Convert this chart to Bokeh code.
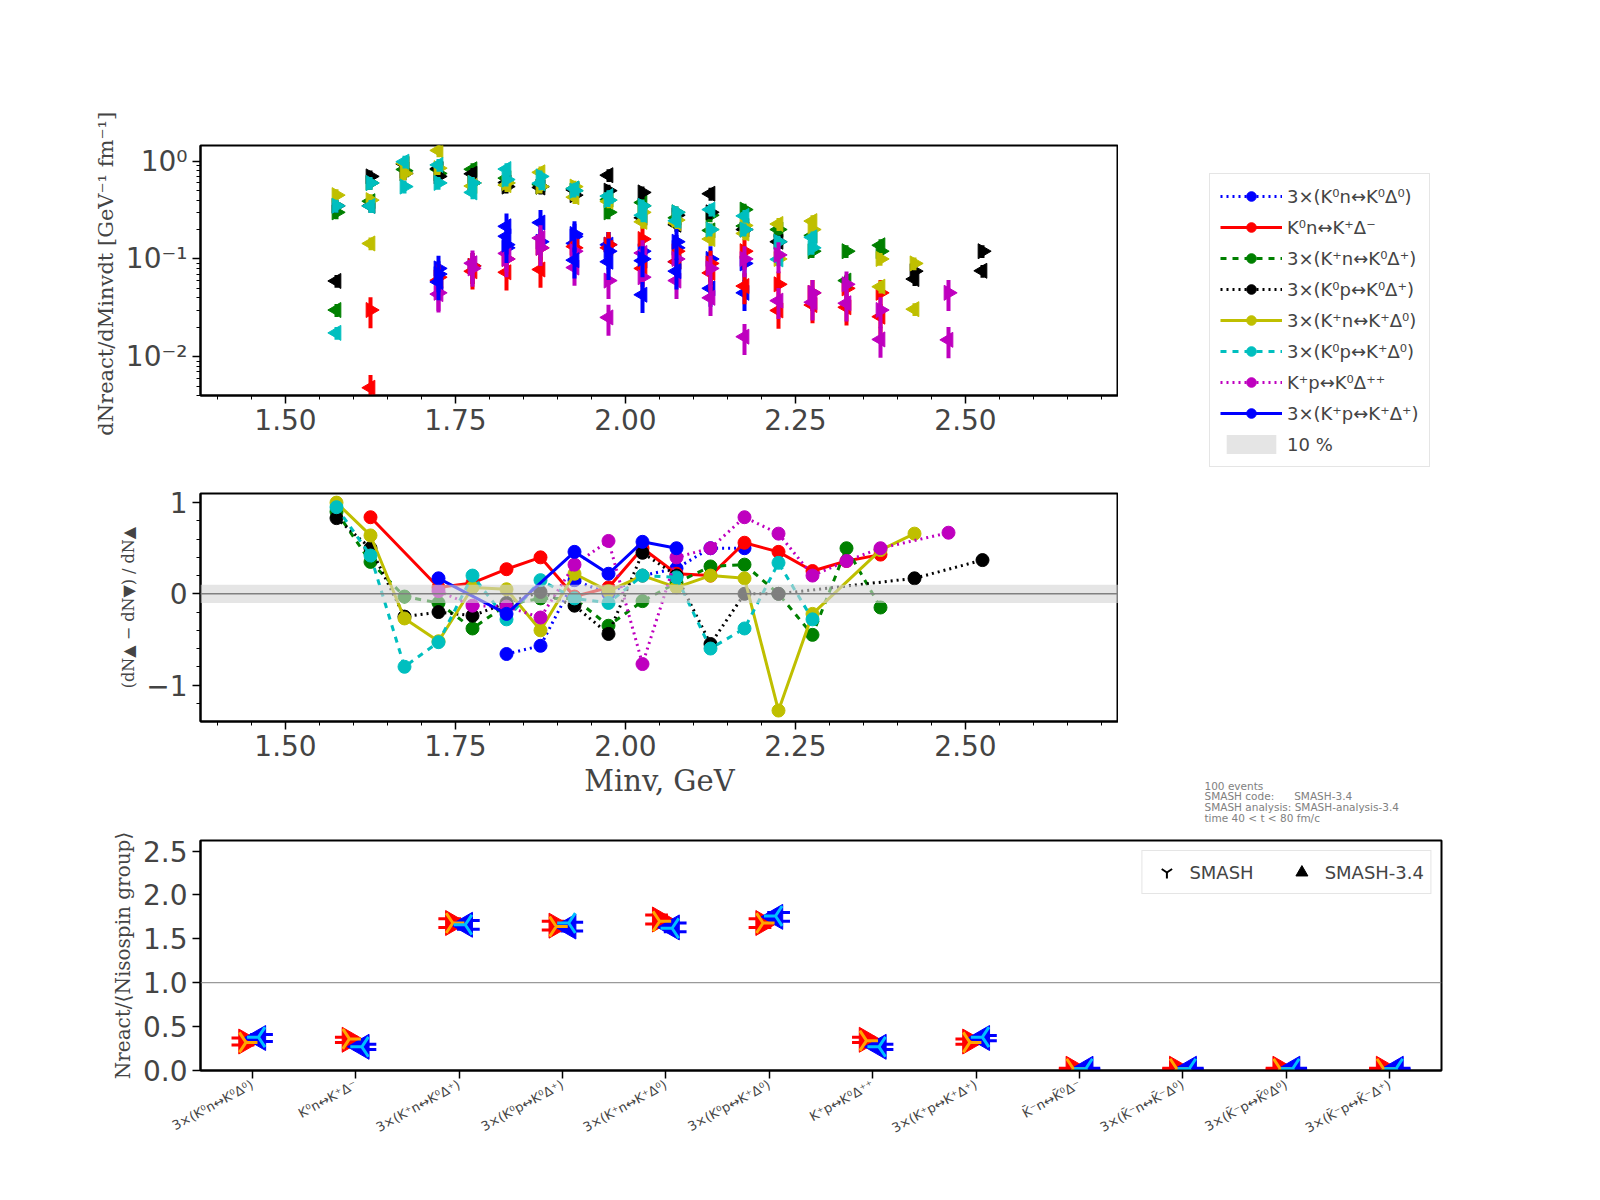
import math
from bokeh.plotting import figure
from bokeh.layouts import column, row
from bokeh.models import (Legend, LegendItem, Span, BoxAnnotation, FixedTicker,
                          Label, Range1d, ColumnDataSource)
from bokeh.embed import file_html
from bokeh.resources import INLINE

# bin centres of the invariant mass histogram
bins = [1.575, 1.625, 1.675, 1.725, 1.775, 1.825, 1.875, 1.925, 1.975, 2.025,
        2.075, 2.125, 2.175, 2.225, 2.275, 2.325, 2.375, 2.425, 2.475, 2.525]
N = None

names = ["3×(K⁰n↔K⁰Δ⁰)", "K⁰n↔K⁺Δ⁻", "3×(K⁺n↔K⁰Δ⁺)", "3×(K⁰p↔K⁰Δ⁺)",
         "3×(K⁺n↔K⁺Δ⁰)", "3×(K⁰p↔K⁺Δ⁰)", "K⁺p↔K⁰Δ⁺⁺", "3×(K⁺p↔K⁺Δ⁺)"]
colors = ["blue", "red", "green", "black", "#bfbf00", "#00bfbf", "#bf00bf", "blue"]
dashes = ["dotted", "solid", "dashed", "dotted", "solid", "dashed", "dotted", "solid"]

# dN/dMinv dt (SMASH-3.4)
top_k0n_k0d0 = [N, N, N, .08, .085, .13, .15, .17, .14, .12, .13, .1, .09, N, N, N, N, N, N, N]
top_k0n_kpdm = [N, .03, N, .065, .085, .1, .13, .13, .14, .16, .12, .09, .12, .055, .045, .05, .045, N, N, N]
top_kpn_k0dp = [.3, .6, .8, .75, .6, .6, .55, .5, .3, .35, .3, .28, .32, .2, .12, .12, .12, N, N, N]
top_k0p_k0dp = [.35, .7, .75, .7, .6, .55, .55, .45, .5, .48, .28, .3, .2, .15, N, N, N, .075, N, .12]
top_kpn_kpd0 = [.45, .4, .75, .85, .6, .6, .55, .55, .4, .3, .25, .2, .22, .1, .2, N, .1, .09, N, N]
top_k0p_kpd0 = [.35, .6, .55, .6, .6, .65, .7, .5, .4, .35, .3, .2, .2, .15, .13, N, N, N, N, N]
top_kpp_k0dpp = [N, N, N, .045, .08, .1, .13, .12, .06, .065, .1, .08, .1, .11, .045, .055, .03, N, .045, N]
top_kpp_kpdp = [N, N, N, .07, N, .14, N, .18, .12, .1, .15, N, N, N, N, N, N, N, N, N]
top_vals = [top_k0n_k0d0, top_k0n_kpdm, top_kpn_k0dp, top_k0p_k0dp,
            top_kpn_kpd0, top_k0p_kpd0, top_kpp_k0dpp, top_kpp_kpdp]
rel_err = [0.35, 0.35, 0.15, 0.15, 0.15, 0.15, 0.35, 0.35]

# relative difference between the two versions
rat_k0n_k0d0 = [N, N, N, N, N, -.66, -.57, .15, 0, .2, .28, .5, .5, N, N, N, N, N, N, N]
rat_k0n_kpdm = [N, .84, N, .07, .12, .27, .40, -.03, .07, .5, .22, .2, .56, .46, .25, .36, .43, N, N, N]
rat_kpn_k0dp = [.9, .35, -.03, -.1, -.38, -.12, -.05, -.05, -.35, -.08, .12, .3, .32, 0, -.45, .5, -.15, N, N, N]
rat_k0p_k0dp = [.83, .5, -.25, -.2, -.24, -.1, .02, -.13, -.44, .45, .2, -.55, 0, 0, N, N, N, .17, N, .37]
rat_kpn_kpd0 = [1.0, .64, -.27, -.52, .07, .05, -.4, .22, .03, .2, .07, .2, .17, -1.28, -.22, N, .48, .66, N, N]
rat_k0p_kpd0 = [.95, .42, -.8, -.53, .2, -.28, .15, -.05, -.1, .2, .18, -.6, -.38, .34, -.28, N, N, N, N, N]
rat_kpp_k0dpp = [N, N, N, .03, -.13, -.14, -.26, .32, .58, -.77, .4, .5, .84, .66, .2, .36, .5, N, .67, N]
rat_kpp_kpdp = [N, N, N, .17, N, -.22, N, .46, .22, .57, .5, N, N, N, N, N, N, N, N, N]
ratios = [rat_k0n_k0d0, rat_k0n_kpdm, rat_kpn_k0dp, rat_k0p_k0dp,
          rat_kpn_kpd0, rat_k0p_kpd0, rat_kpp_k0dpp, rat_kpp_kpdp]

# bottom panel: N_react / <N_isospin group>
cat_labels = ["3×(K⁰n↔K⁰Δ⁰)", "K⁰n↔K⁺Δ⁻", "3×(K⁺n↔K⁰Δ⁺)", "3×(K⁰p↔K⁰Δ⁺)",
              "3×(K⁺n↔K⁺Δ⁰)", "3×(K⁰p↔K⁺Δ⁰)", "K⁺p↔K⁰Δ⁺⁺", "3×(K⁺p↔K⁺Δ⁺)",
              "K̄⁻n↔K̄⁰Δ⁻", "3×(K̄⁻n↔K̄⁻Δ⁰)", "3×(K̄⁻p↔K̄⁰Δ⁰)", "3×(K̄⁻p↔K̄⁻Δ⁺)"]
fwd_new = [.33, .35, 1.68, 1.65, 1.72, 1.68, .35, .33, .02, .02, .02, .02]
bwd_new = [.37, .27, 1.66, 1.64, 1.63, 1.75, .27, .37, .02, .02, .02, .02]
fwd_old = [.32, .36, 1.68, 1.64, 1.70, 1.68, .34, .32, .02, .02, .02, .02]
bwd_old = [.38, .27, 1.66, 1.68, 1.62, 1.76, .27, .38, .02, .02, .02, .02]
err_bar = [.04, .03, .05, .05, .05, .05, .03, .03, .005, .005, .005, .005]

info = ["100 events", "SMASH code:\u00a0\u00a0\u00a0\u00a0\u00a0\u00a0SMASH-3.4",
        "SMASH analysis: SMASH-analysis-3.4", "time 40 < t < 80 fm/c"]

FONT = "DejaVu Sans"


def style(p, size="22px"):
    p.outline_line_color = "black"
    p.outline_line_width = 2
    p.xgrid.visible = False
    p.ygrid.visible = False
    for ax in p.axis:
        ax.major_label_text_font_size = size
        ax.major_label_text_font = FONT
        ax.axis_label_text_font = "DejaVu Serif"
        ax.axis_label_text_font_style = "normal"
        ax.major_tick_out = 8
        ax.minor_tick_out = 4
        ax.major_tick_in = 0
        ax.minor_tick_in = 0
        ax.axis_line_width = 2
        ax.major_tick_line_width = 1.5


def blank(w, h, left=0, top=0):
    f = figure(frame_width=w - left, frame_height=h - top, x_range=Range1d(0, 1), y_range=Range1d(0, 1),
               output_backend="svg", toolbar_location=None, min_border=0,
               min_border_left=left, min_border_top=top)
    f.axis.visible = False
    f.grid.visible = False
    f.outline_line_color = None
    return f


# ---------------- top panel
p1 = figure(frame_width=918, frame_height=250, min_border_left=200, min_border_top=145,
            min_border_bottom=84, min_border_right=0, y_axis_type="log",
            x_range=Range1d(1.375, 2.725), y_range=Range1d(0.004, 1.45),
            output_backend="svg", toolbar_location=None)
style(p1, "28px")
p1.xaxis.ticker = FixedTicker(ticks=[1.5, 1.75, 2.0, 2.25, 2.5],
                              minor_ticks=[1.4 + 0.05 * i for i in range(27)])
p1.xaxis.major_label_overrides = {1.5: "1.50", 1.75: "1.75", 2.0: "2.00", 2.25: "2.25", 2.5: "2.50"}
p1.yaxis.ticker = FixedTicker(ticks=[0.01, 0.1, 1.0],
                              minor_ticks=[k * 10.0 ** e for e in (-3, -2, -1, 0) for k in range(2, 10)])
p1.yaxis.major_label_overrides = {0.01: "10⁻²", 0.1: "10⁻¹", 1.0: "10⁰"}
p1.yaxis.axis_label = "dNreact/dMinvdt  [GeV⁻¹ fm⁻¹]"
p1.yaxis.axis_label_text_font_size = "21px"

for i in range(len(names)):
    xs, yn, yo, lo, hi, lo2, hi2 = [], [], [], [], [], [], []
    for j, v in enumerate(top_vals[i]):
        if v is None:
            continue
        xs.append(bins[j])
        yn.append(v)
        lo.append(v * (1 - rel_err[i]))
        hi.append(v * (1 + rel_err[i]))
        r = ratios[i][j]
        o = v * (1 - r) if r is not None else None
        if o is not None and o <= 0:
            o = 0.003
        yo.append(o if o is not None else float("nan"))
        lo2.append(o * (1 - rel_err[i]) if o else float("nan"))
        hi2.append(o * (1 + rel_err[i]) if o else float("nan"))
    c = colors[i]
    p1.segment(xs, lo, xs, hi, line_color=c, line_width=4)
    p1.segment(xs, lo2, xs, hi2, line_color=c, line_width=4)
    p1.scatter(xs, yn, marker="triangle", angle=-math.pi / 2, size=15, color=c)
    p1.scatter(xs, yo, marker="triangle", angle=math.pi / 2, size=15, color=c)

# legend lives in its own blank panel to the right of the top plot
lf = blank(330, 479, left=91, top=145)
items = []
for i in range(len(names)):
    ln = lf.line([5, 6], [5, 6], line_color=colors[i], line_dash=dashes[i], line_width=3)
    dot = lf.scatter([5], [5], marker="circle", size=12, color=colors[i])
    items.append(LegendItem(label=names[i], renderers=[ln, dot]))
band = lf.quad(left=[5], right=[6], top=[6], bottom=[5], fill_color="lightgray",
               fill_alpha=0.6, line_color=None)
items.append(LegendItem(label="10 %", renderers=[band]))
leg = Legend(items=items, location=(0, 12), label_text_font_size="18px", label_text_font=FONT,
             glyph_width=62, glyph_height=24, spacing=7, padding=10, border_line_color="#cccccc",
             border_line_width=1, margin=0)
lf.add_layout(leg)

# ---------------- middle panel
p2 = figure(frame_width=918, frame_height=228, min_border_left=200, min_border_top=14,
            min_border_bottom=110, min_border_right=0,
            x_range=Range1d(1.375, 2.725), y_range=Range1d(-1.4, 1.1),
            output_backend="svg", toolbar_location=None)
style(p2, "28px")
p2.xaxis.ticker = p1.xaxis.ticker
p2.xaxis.major_label_overrides = p1.xaxis.major_label_overrides
p2.yaxis.ticker = FixedTicker(ticks=[-1, 0, 1], minor_ticks=[-1.2 + 0.2 * i for i in range(12)])
p2.yaxis.major_label_overrides = {-1: "−1", 0: "0", 1: "1"}
p2.xaxis.axis_label = "Minv, GeV"
p2.xaxis.axis_label_text_font_size = "29px"
p2.yaxis.axis_label = "(dN▲ − dN▼) / dN▲"
p2.yaxis.axis_label_text_font_size = "16px"
p2.add_layout(BoxAnnotation(bottom=-0.1, top=0.1, fill_color="lightgray", fill_alpha=0.6, line_color=None))
p2.add_layout(Span(location=0, dimension="width", line_color="gray", line_width=1.5))
for i in range(len(names)):
    xs = [bins[j] for j, r in enumerate(ratios[i]) if r is not None]
    ys = [r for r in ratios[i] if r is not None]
    p2.line(xs, ys, line_color=colors[i], line_dash=dashes[i], line_width=3)
    p2.scatter(xs, ys, marker="circle", size=13, color=colors[i])

# info text panel to the right of the middle plot
inf = blank(330, 352)
for k, t in enumerate(info):
    inf.add_layout(Label(x=86, y=54 - 10.7 * k, x_units="screen", y_units="screen", text=t,
                         text_font_size="10.5px", text_color="gray", text_font=FONT))

# ---------------- bottom panel
p3 = figure(frame_width=1241, frame_height=230, min_border_left=200, min_border_top=9,
            min_border_bottom=115, min_border_right=10,
            x_range=Range1d(-0.5, 11.5), y_range=Range1d(0, 2.62),
            output_backend="svg", toolbar_location=None)
style(p3, "28px")
p3.xaxis.ticker = FixedTicker(ticks=list(range(12)), minor_ticks=[])
p3.xaxis.major_label_overrides = {i: l for i, l in enumerate(cat_labels)}
p3.xaxis.major_label_orientation = 0.5
p3.xaxis.major_label_text_font_size = "13px"
p3.yaxis.ticker = FixedTicker(ticks=[0, 0.5, 1.0, 1.5, 2.0, 2.5], minor_ticks=[])
p3.yaxis.major_label_overrides = {0: "0.0", 0.5: "0.5", 1.0: "1.0", 1.5: "1.5", 2.0: "2.0", 2.5: "2.5"}
p3.yaxis.axis_label = "Nreact/⟨Nisospin group⟩"
p3.yaxis.axis_label_text_font_size = "20px"
p3.add_layout(Span(location=1.0, dimension="width", line_color="gray", line_width=1))

cx = list(range(12))
src = ColumnDataSource(dict(xl=[x - 0.06 for x in cx], xr=[x + 0.06 for x in cx],
                            fn=fwd_new, bn=bwd_new, fo=fwd_old, bo=bwd_old,
                            fn_lo=[a - e for a, e in zip(fwd_new, err_bar)],
                            fn_hi=[a + e for a, e in zip(fwd_new, err_bar)],
                            bn_lo=[a - e for a, e in zip(bwd_new, err_bar)],
                            bn_hi=[a + e for a, e in zip(bwd_new, err_bar)],
                            xl0=[x - 0.2 for x in cx], xl1=[x + 0.02 for x in cx],
                            xr0=[x - 0.02 for x in cx], xr1=[x + 0.2 for x in cx]))
p3.segment("xl0", "fn_lo", "xl1", "fn_lo", source=src, line_color="red", line_width=3)
p3.segment("xl0", "fn_hi", "xl1", "fn_hi", source=src, line_color="red", line_width=3)
p3.segment("xr0", "bn_lo", "xr1", "bn_lo", source=src, line_color="blue", line_width=3)
p3.segment("xr0", "bn_hi", "xr1", "bn_hi", source=src, line_color="blue", line_width=3)
p3.scatter("xl", "fn", source=src, marker="triangle", angle=-math.pi / 2, size=25, color="red")
p3.scatter("xr", "bn", source=src, marker="triangle", angle=math.pi / 2, size=25, color="blue")
p3.scatter("xl", "fo", source=src, marker="y", angle=math.pi / 2, size=23, line_color="orange", line_width=3)
p3.scatter("xr", "bo", source=src, marker="y", angle=-math.pi / 2, size=23, line_color="deepskyblue", line_width=3)

r_old = p3.scatter([-10], [-10], marker="y", angle=math.pi / 2, size=22, line_color="black", line_width=2)
r_new = p3.scatter([-10], [-10], marker="triangle", angle=-math.pi / 2, size=26, color="black")
leg3 = Legend(items=[LegendItem(label="SMASH", renderers=[r_old]),
                     LegendItem(label="SMASH-3.4", renderers=[r_new])],
              location="top_right", orientation="horizontal", label_text_font_size="18px",
              label_text_font=FONT, glyph_width=36, glyph_height=30, spacing=30,
              border_line_color="#cccccc", margin=10, padding=6)
p3.add_layout(leg3)

layout = column(row(p1, lf), row(p2, inf), p3, spacing=0)
open("out.html", "w").write(file_html(layout, INLINE))
